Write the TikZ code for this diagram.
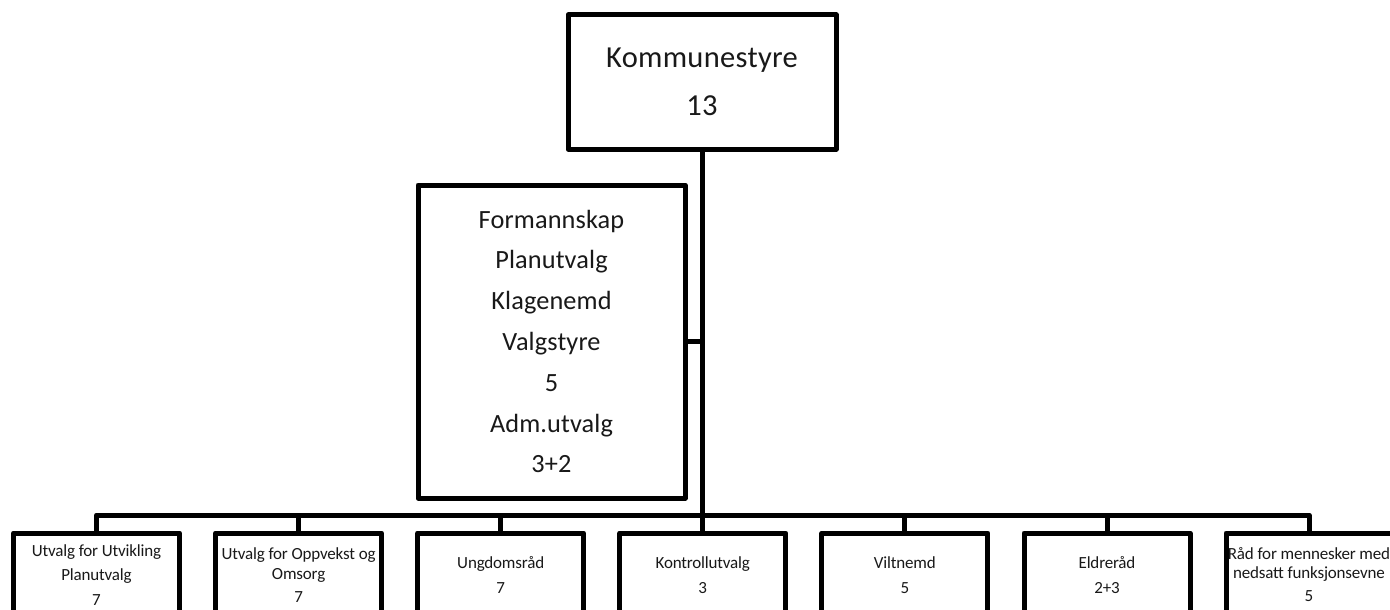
\documentclass[tikz,border=0pt]{standalone}
\usepackage{fontspec}
\setmainfont{Carlito}
\newfontfamily\topfont[LetterSpace=1]{Carlito}
\newfontfamily\midfont[LetterSpace=0.5]{Carlito}
\newfontfamily\botfont[LetterSpace=-1]{Carlito}
\begin{document}
\begin{tikzpicture}[x=1pt,y=-1pt,
  orgbox/.style={draw=black, line width=5pt, line join=round, fill=white, inner sep=0pt, align=center, text=black!90},
  topbox/.style={orgbox, minimum width=268pt, minimum height=134pt, font=\topfont\fontsize{30.5}{48}\selectfont},
  midbox/.style={orgbox, minimum width=267pt, minimum height=313pt, font=\midfont\fontsize{26.3}{40.8}\selectfont},
  botbox/.style={orgbox, minimum width=166pt, minimum height=84pt, font=\botfont\fontsize{17}{24.5}\selectfont},
  conn/.style={draw=black, line width=5pt, line join=round}]
\useasboundingbox (0,0) rectangle (1390,610);
\fill[white] (0,0) rectangle (1390,610);
\clip (0,0) rectangle (1390,610);

\node[topbox] (top) at (702,82) {Kommunestyre\\13};
\node[midbox] (mid) at (551.5,341.5) {Formannskap\\Planutvalg\\Klagenemd\\Valgstyre\\5\\Adm.utvalg\\3+2};

\node[botbox] (b1) at (96.5,575) {Utvalg for Utvikling\\Planutvalg\\7};
\node[botbox] (b2) at (298.6,575) {Utvalg for Oppvekst og\\[-4.5pt]Omsorg\\[-1.5pt]7};
\node[botbox] (b3) at (500.7,575) {Ungdomsråd\\7};
\node[botbox] (b4) at (702.8,575) {Kontrollutvalg\\3};
\node[botbox] (b5) at (904.9,575) {Viltnemd\\5};
\node[botbox] (b6) at (1107,575) {Eldreråd\\2+3};
\node[botbox] (b7) at (1309,575) {Råd for mennesker med\\[-5.5pt]nedsatt funksjonsevne\\[-1.5pt]5};

\coordinate (bus) at (702,515);

\draw[conn] (top.south) -- (top.south |- bus);
\draw[conn] (mid.east) -- (mid.east -| top.south);
\draw[conn] (b1.north) -- (b1.north |- bus) -- (b7.north |- bus) -- (b7.north);
\foreach \b in {b2,b3,b4,b5,b6}{
  \draw[conn] (\b.north) -- (\b.north |- bus);
}
\end{tikzpicture}
\end{document}
